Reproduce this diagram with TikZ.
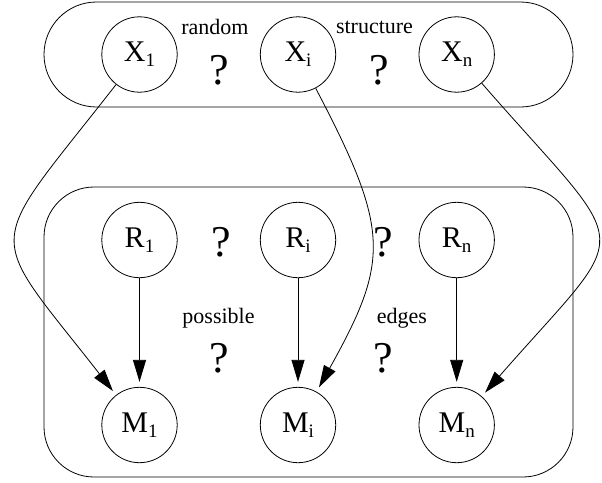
\documentclass[tikz,border=0pt]{standalone}
\usepackage{fontspec}
\setmainfont{Liberation Serif}
\usetikzlibrary{arrows.meta}
\newcommand{\subidx}[1]{\raisebox{-5pt}{\fontsize{19}{19}\selectfont #1}}
\tikzset{
  var/.style={circle, draw, minimum size=75.4pt, inner sep=0pt, font=\fontsize{30}{30}\selectfont},
  qmark/.style={font=\fontsize{44}{44}\selectfont},
  lbl/.style={font=\fontsize{22}{22}\selectfont},
  edge/.style={-{Triangle[length=22pt,width=13pt]}, shorten >=5pt}
}
\begin{document}
\begin{tikzpicture}[x=1pt, y=-1pt, line width=0.8pt]
\useasboundingbox (0,0) rectangle (602,482);
\draw [rounded corners=52.5pt] (44,2) rectangle (573,107);
\draw [rounded corners=50pt] (44,187) rectangle (573,477);
\node [var] (x1) at (139.5,54.5) {X\subidx{1}};
\node [var] (xi) at (298,54.5) {X\subidx{i}};
\node [var] (xn) at (456.7,54.5) {X\subidx{n}};
\node [var] (r1) at (139.5,240) {R\subidx{1}};
\node [var] (ri) at (298,240) {R\subidx{i}};
\node [var] (rn) at (456.7,240) {R\subidx{n}};
\node [var] (m1) at (139.5,425) {M\subidx{1}};
\node [var] (mi) at (298,425) {M\subidx{i}};
\node [var] (mn) at (456.7,425) {M\subidx{n}};
\node [lbl] (random) at (215,27) {random};
\node [lbl] (structure) at (374.5,27) {structure};
\node [lbl] (possible) at (218.5,318) {possible};
\node [lbl] (edges) at (402,318) {edges};
\node [qmark] (q1) at (219,70) {?};
\node [qmark] (q2) at (379,70) {?};
\node [qmark] (q3) at (221,242) {?};
\node [qmark] (q4) at (383,242) {?};
\node [qmark] (q5) at (219,358) {?};
\node [qmark] (q6) at (383,358) {?};
\draw [edge] (r1) -- (m1);
\draw [edge] (ri) -- (mi);
\draw [edge] (rn) -- (mn);
\draw [edge] (x1) .. controls (-17,255) and (-17,225) .. (m1);
\draw [edge] (xi) .. controls (390,230) and (390,260) .. (mi);
\draw [edge] (xn) .. controls (636,260) and (636,220) .. (mn);
\end{tikzpicture}
\end{document}
